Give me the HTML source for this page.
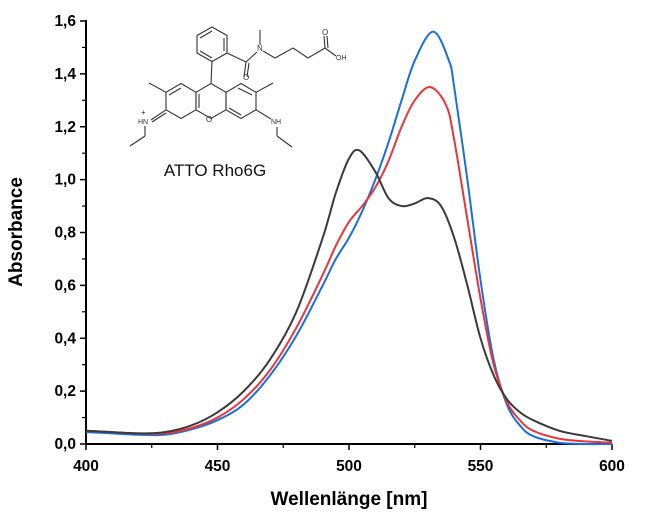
<!DOCTYPE html>
<html><head><meta charset="utf-8"><style>
html,body{margin:0;padding:0;background:#fff;}
svg{display:block;font-family:"Liberation Sans",Arial,sans-serif;}
</style></head><body>
<svg id="chart" width="645" height="517" viewBox="0 0 645 517" xmlns="http://www.w3.org/2000/svg">
<g id="mol" stroke="#333" stroke-width="1.1" fill="none">
  <polygon points="181,83.5 196,92.3 196,109.8 181,118.5 166,109.8 166,92.3"/>
  <polygon points="211,83.5 226,92.3 226,109.8 211,118.5 196,109.8 196,92.3"/>
  <polygon points="241,83.5 256,92.3 256,109.8 241,118.5 226,109.8 226,92.3"/>
  <polygon points="212,27 227,35.5 227,53 212,61.5 197,53 197,35.5"/>
  <line x1="169" y1="95" x2="181" y2="88"/><line x1="199" y1="94" x2="199" y2="108"/>
  <line x1="238" y1="88" x2="252" y2="95"/><line x1="229" y1="108" x2="241" y2="115"/>
  <line x1="200" y1="38" x2="212" y2="31"/><line x1="224" y1="38" x2="224" y2="51"/><line x1="200" y1="51" x2="212" y2="58"/>
  <line x1="212" y1="61.5" x2="211" y2="83.5"/>
  <line x1="227" y1="53" x2="246" y2="62"/><line x1="246" y1="62" x2="244" y2="77"/><line x1="249" y1="63" x2="247" y2="77"/>
  <line x1="246" y1="62" x2="257" y2="52"/><line x1="260" y1="45" x2="260" y2="30"/>
  <polyline points="263,51 275,58 293,48 308,58 325,48"/>
  <line x1="325" y1="48" x2="324" y2="36"/><line x1="328" y1="48" x2="327" y2="36"/><line x1="325" y1="48" x2="336" y2="56"/>
  <line x1="166" y1="92.3" x2="149" y2="83"/><line x1="256" y1="92.3" x2="273" y2="83"/>
  <line x1="166" y1="109.8" x2="151" y2="120"/><line x1="166" y1="113" x2="152" y2="122"/>
  <line x1="145" y1="126" x2="145" y2="136"/><line x1="145" y1="136" x2="130" y2="146"/>
  <line x1="256" y1="109.8" x2="271" y2="119"/><line x1="277" y1="127" x2="277" y2="136"/><line x1="277" y1="136" x2="292" y2="147"/>
  <g stroke="none" fill="#333" font-size="8">
    <text x="206" y="122">O</text><text x="243" y="80">O</text><text x="257" y="51">N</text>
    <text x="322" y="35">O</text><text x="336" y="60" font-size="7">OH</text>
    <text x="138" y="124" font-size="7">HN</text><text x="141" y="115" font-size="8">+</text>
    <text x="271" y="124" font-size="7">NH</text>
  </g>
</g>
<text x="215" y="176" font-size="17" text-anchor="middle" fill="#111">ATTO Rho6G</text>
<g id="axes"></g>
<g id="series"></g>
<text x="349" y="505" font-size="19" font-weight="bold" text-anchor="middle">Wellenlänge [nm]</text>
<text transform="translate(22,232) rotate(-90)" font-size="19" font-weight="bold" text-anchor="middle">Absorbance</text>
</svg>
<script>
const xTicks=[400,450,500,550,600];
const yTicks=[0,0.2,0.4,0.6,0.8,1.0,1.2,1.4,1.6];
const yTickLabels=["0,0","0,2","0,4","0,6","0,8","1,0","1,2","1,4","1,6"];
const blackX=[400,410,420,430,440,450,460,470,480,490,495,500,504,510,515,520,525,530,535,540,545,550,555,560,565,570,580,590,600];
const blackY=[0.05,0.045,0.04,0.045,0.07,0.12,0.2,0.32,0.5,0.78,0.95,1.08,1.11,1.03,0.93,0.90,0.91,0.93,0.9,0.78,0.6,0.4,0.26,0.17,0.12,0.09,0.05,0.03,0.012];
const redX=[400,410,420,430,440,450,460,470,480,490,495,500,505,510,515,520,525,531,537,540,545,550,555,560,565,570,580,590,600];
const redY=[0.05,0.045,0.04,0.04,0.06,0.1,0.17,0.28,0.44,0.64,0.75,0.84,0.9,0.97,1.07,1.2,1.3,1.35,1.28,1.15,0.85,0.55,0.3,0.16,0.09,0.05,0.02,0.01,0.005];
const blueX=[400,410,420,430,440,450,460,470,480,490,495,500,505,510,515,520,525,532,538,540,545,550,555,560,565,570,580,590,600];
const blueY=[0.045,0.04,0.035,0.035,0.055,0.09,0.15,0.26,0.41,0.6,0.7,0.78,0.88,1.0,1.14,1.3,1.45,1.56,1.45,1.35,1.0,0.62,0.32,0.15,0.07,0.03,0.005,0,0];
const NS="http://www.w3.org/2000/svg";
const X0=86,X1=612,Y0=444,Y1=21;
function sx(v){return X0+(v-400)/(200)*(X1-X0);}
function sy(v){return Y0-(v/1.6)*(Y0-Y1);}
function mk(t,a,p){const e=document.createElementNS(NS,t);for(const k in a)e.setAttribute(k,a[k]);p.appendChild(e);return e;}
const ax=document.getElementById('axes');
const xl=mk('line',{x1:X0,y1:Y0,x2:X1,y2:Y0,stroke:'#000','stroke-width':2},ax);


const yl=mk('line',{x1:X0,y1:Y0,x2:X0,y2:Y1-1,stroke:'#000','stroke-width':2},ax);


for(let i=0;i<xTicks.length;i++){const v=xTicks[i];
 mk('line',{x1:sx(v),y1:Y0,x2:sx(v),y2:Y0+6,stroke:'#000','stroke-width':1.5},ax);
 if(i<xTicks.length-1){const m=(v+xTicks[i+1])/2;mk('line',{x1:sx(m),y1:Y0,x2:sx(m),y2:Y0+4,stroke:'#000','stroke-width':1.2},ax);}
 const t=mk('text',{x:sx(v),y:Y0+27,'font-size':15.5,'font-weight':'bold','text-anchor':'middle'},ax);t.textContent=v;
 
 }
for(let i=0;i<yTicks.length;i++){const v=yTicks[i];
 mk('line',{x1:X0-6,y1:sy(v),x2:X0,y2:sy(v),stroke:'#000','stroke-width':1.5},ax);
 if(i<yTicks.length-1){const m=(v+yTicks[i+1])/2;mk('line',{x1:sx(400)-4,y1:sy(m),x2:X0,y2:sy(m),stroke:'#000','stroke-width':1.2},ax);}
 const t=mk('text',{x:X0-10,y:sy(v)+5,'font-size':15.5,'font-weight':'bold','text-anchor':'end'},ax);t.textContent=yTickLabels[i];
 
 }
function path(xs,ys){const p=xs.map((x,i)=>[sx(x),sy(ys[i])]);let d='M'+p[0][0]+','+p[0][1];
 for(let i=0;i<p.length-1;i++){const a=p[Math.max(0,i-1)],b=p[i],c=p[i+1],e=p[Math.min(p.length-1,i+2)];
  const c1=[b[0]+(c[0]-a[0])/6,b[1]+(c[1]-a[1])/6],c2=[c[0]-(e[0]-b[0])/6,c[1]-(e[1]-b[1])/6];
  d+=' C'+c1.join(',')+' '+c2.join(',')+' '+c.join(',');}return d;}
const sg=document.getElementById('series');
const b1=mk('path',{d:path(blueX,blueY),stroke:'#1a6fe0',fill:'none','stroke-width':2},sg);


const r1=mk('path',{d:path(redX,redY),stroke:'#e8353b',fill:'none','stroke-width':2},sg);


const k1=mk('path',{d:path(blackX,blackY),stroke:'#3a3a3a',fill:'none','stroke-width':2},sg);


</script>
</body></html>
